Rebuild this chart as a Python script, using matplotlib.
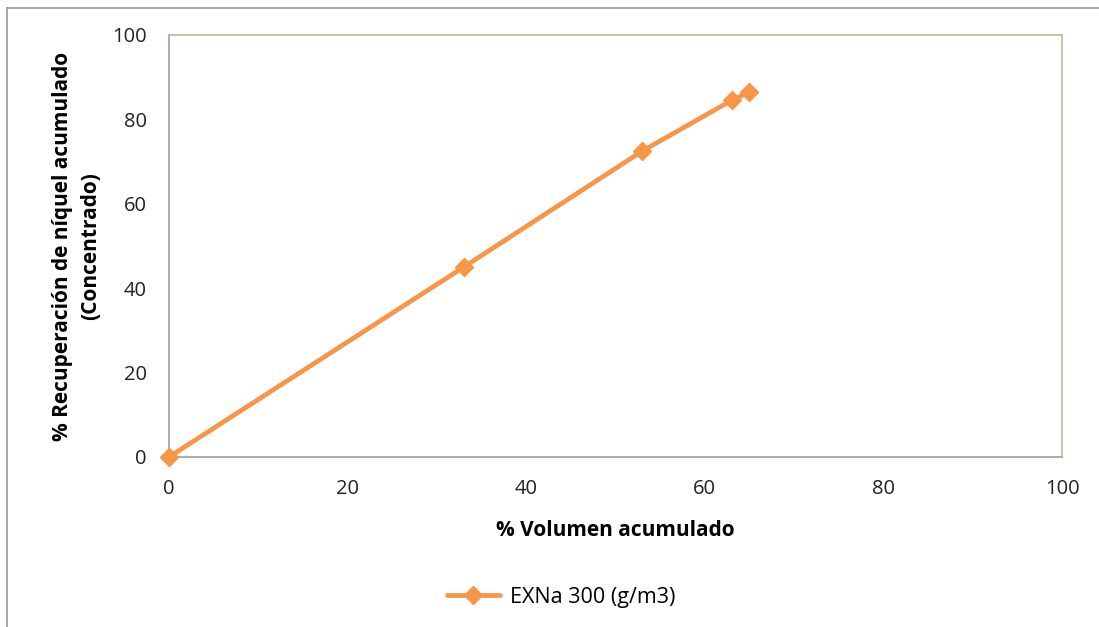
import matplotlib
matplotlib.use("Agg")
import matplotlib.pyplot as plt
from matplotlib.lines import Line2D

volumen = [0, 33, 53, 63, 65]
recuperacion = [0, 45, 72.5, 84.5, 86.5]
serie = "EXNa 300 (g/m3)"
ticks = [0, 20, 40, 60, 80, 100]

plt.rcParams['font.family'] = ['Open Sans', 'DejaVu Sans']

fig = plt.figure(figsize=(10.99, 6.27), dpi=100)
ax = fig.add_axes([169/1099, 1-457/627, (1062-169)/1099, (457-35)/627])

color = '#F79646'
ax.plot(volumen, recuperacion, color=color, lw=3.4, marker='D', markersize=9.5,
        label=serie, solid_capstyle='round', clip_on=False, zorder=3)

ax.set_xlim(0, 100)
ax.set_ylim(0, 100)
ax.set_xticks(ticks)
ax.set_yticks(ticks)
ax.tick_params(length=0, labelsize=14.5, colors='#222222')
ax.tick_params(axis='x', pad=16)
ax.tick_params(axis='y', pad=16)

for s in ['left', 'bottom']:
    ax.spines[s].set_color('#a6a6a6')
    ax.spines[s].set_linewidth(1.3)
for s in ['top', 'right']:
    ax.spines[s].set_color('#c4bd97')
    ax.spines[s].set_linewidth(1.3)

ax.set_xlabel('% Volumen acumulado', fontsize=15, fontweight='bold', labelpad=15)
ax.set_ylabel('% Recuperación de níquel acumulado\n(Concentrado)', fontsize=15,
              fontweight='bold', labelpad=8, linespacing=1.45)

leg = fig.legend(loc='center', bbox_to_anchor=(561/1099, 1-597/627), frameon=False,
                 fontsize=15.5, handlelength=2.45, handletextpad=0.45)

# outer chart border (top and left)
fig.add_artist(Line2D([7/1099, 1.0], [1-8/627, 1-8/627], transform=fig.transFigure,
                      color='#a0a0a0', lw=1.3))
fig.add_artist(Line2D([7/1099, 7/1099], [0.0, 1-8/627], transform=fig.transFigure,
                      color='#a0a0a0', lw=1.3))

fig.savefig('out.png', dpi=100)
